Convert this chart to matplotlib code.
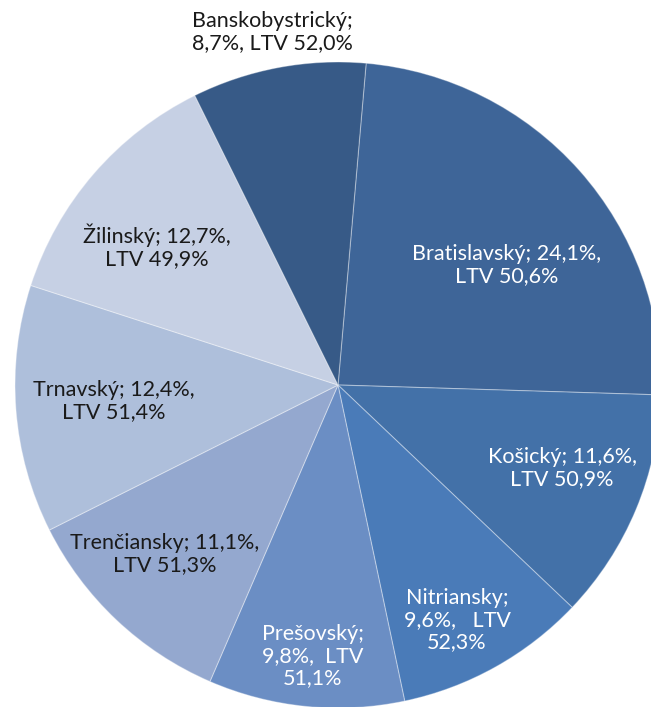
import matplotlib
matplotlib.use("Agg")
import matplotlib.pyplot as plt

regions = ["Bratislavský", "Košický", "Nitriansky", "Prešovský",
           "Trenčiansky", "Trnavský", "Žilinský", "Banskobystrický"]
shares = [24.1, 11.6, 9.6, 9.8, 11.1, 12.4, 12.7, 8.7]
ltv = [50.6, 50.9, 52.3, 51.1, 51.3, 51.4, 49.9, 52.0]
label_texts = [
    "Bratislavský; 24,1%,\nLTV 50,6%",
    "Košický; 11,6%,\nLTV 50,9%",
    "Nitriansky;\n9,6%,   LTV\n52,3%",
    "Prešovský;\n9,8%,  LTV\n51,1%",
    "Trenčiansky; 11,1%,\nLTV 51,3%",
    "Trnavský; 12,4%,\nLTV 51,4%",
    "Žilinský; 12,7%,\nLTV 49,9%",
    "Banskobystrický;\n8,7%, LTV 52,0%",
]

colors = ["#3e6598", "#4371a8", "#4a7bb8", "#6b8ec4",
          "#94a8cf", "#aebfdb", "#c6d0e4", "#375a87"]
text_colors = ["white", "white", "white", "white",
               "#1a1a1a", "#1a1a1a", "#1a1a1a", "#1a1a1a"]
# label centres in image pixels (x from left, y from top)
label_px = [(507, 265), (562, 468), (457, 620), (313, 656),
            (165, 554), (114, 401), (157, 246), (272, 32)]

W, H = 651, 707
cx, cy, R = 338, 385, 323

fig = plt.figure(figsize=(W / 100, H / 100), dpi=100)
ax = fig.add_axes([0, 0, 1, 1])

ax.pie(shares, colors=colors, radius=R, startangle=85, counterclock=False,
       wedgeprops=dict(edgecolor=(1, 1, 1, 0.35), linewidth=0.8))

# pie() resets the limits, so set them afterwards (1 unit = 1 pixel)
ax.set_xlim(-cx, W - cx)
ax.set_ylim(-(H - cy), cy)
ax.set_aspect("equal")
ax.axis("off")

for txt, col, (px, py) in zip(label_texts, text_colors, label_px):
    ax.text(px - cx, cy - py, txt, ha="center", va="center", color=col,
            fontsize=15.5, family=["Lato", "DejaVu Sans"], linespacing=1.15)

fig.savefig("out.png", dpi=100)
